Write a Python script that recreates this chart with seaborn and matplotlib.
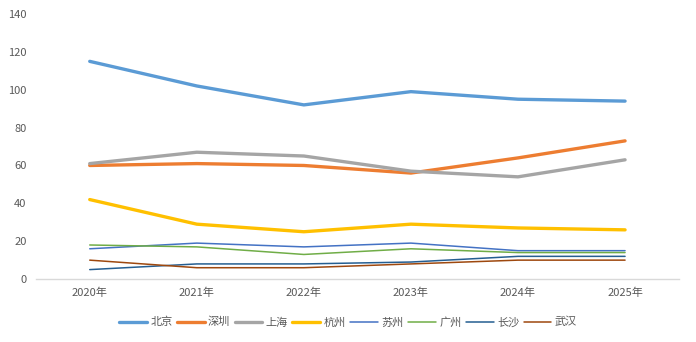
import matplotlib
matplotlib.use("Agg")
import matplotlib.pyplot as plt
import seaborn as sns
import pandas as pd

years = ["2020年", "2021年", "2022年", "2023年", "2024年", "2025年"]
cities = ["北京", "深圳", "上海", "杭州", "苏州", "广州", "长沙", "武汉"]
beijing = [115, 102, 92, 99, 95, 94]
shenzhen = [60, 61, 60, 56, 64, 73]
shanghai = [61, 67, 65, 57, 54, 63]
hangzhou = [42, 29, 25, 29, 27, 26]
suzhou = [16, 19, 17, 19, 15, 15]
guangzhou = [18, 17, 13, 16, 14, 14]
changsha = [5, 8, 8, 9, 12, 12]
wuhan = [10, 6, 6, 8, 10, 10]
series = [beijing, shenzhen, shanghai, hangzhou, suzhou, guangzhou, changsha, wuhan]
colors = ["#5B9BD5", "#ED7D31", "#A5A5A5", "#FFC000", "#4472C4", "#70AD47", "#255E91", "#9E480E"]
widths = [2.4, 2.4, 2.4, 2.4, 1.1, 1.1, 1.1, 1.1]

sns.set_theme(style="white")
plt.rcParams['font.family'] = ['Noto Sans CJK SC', 'DejaVu Sans']

rows = []
for c, vals in zip(cities, series):
    for y, v in zip(years, vals):
        rows.append({"year": y, "city": c, "value": v})
df = pd.DataFrame(rows)

fig = plt.figure(figsize=(6.96, 3.42), dpi=100)
ax = fig.add_axes([0.052, 0.184, 0.923, 0.775])
for c, col, lw in zip(cities, colors, widths):
    sns.lineplot(data=df[df.city == c], x="year", y="value", color=col,
                 linewidth=lw, ax=ax, label=c, sort=False)

ax.set_xlim(-0.5, 5.5)
ax.set_ylim(0, 140)
ax.set_yticks(range(0, 141, 20))
ax.set_xlabel("")
ax.set_ylabel("")
for s in ["top", "right", "left"]:
    ax.spines[s].set_visible(False)
ax.spines["bottom"].set_color("#D9D9D9")
ax.spines["bottom"].set_linewidth(1)
ax.tick_params(axis="both", length=0, labelsize=8, labelcolor="#595959", pad=6)
ax.tick_params(axis="y", pad=7)

leg = ax.legend(loc="center", bbox_to_anchor=(0.5, 0.058), bbox_transform=fig.transFigure,
                ncol=8, frameon=False, fontsize=8, handlelength=2.5, handletextpad=0.3,
                columnspacing=0.4)
for t in leg.get_texts():
    t.set_color("#595959")

fig.savefig("out.png", dpi=100)
